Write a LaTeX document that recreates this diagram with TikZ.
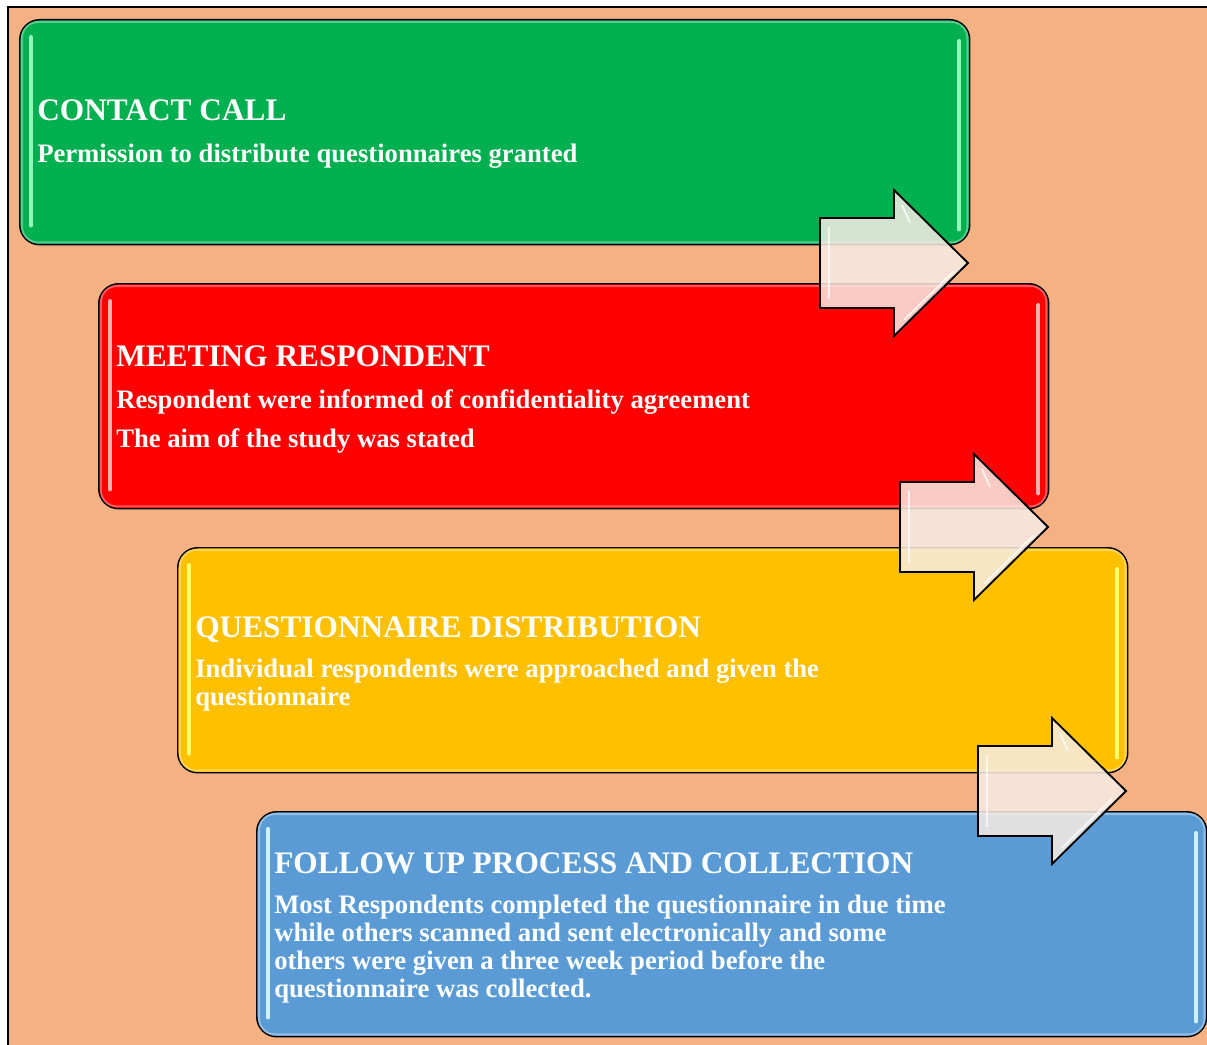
\documentclass[tikz,border=0pt]{standalone}
\usepackage{fontspec}
\setmainfont{Liberation Serif}
\usetikzlibrary{calc,positioning}

\definecolor{peach}{RGB}{244,177,131}
\definecolor{stagegreen}{RGB}{0,176,80}
\definecolor{stagered}{RGB}{255,0,0}
\definecolor{stagegold}{RGB}{255,192,0}
\definecolor{stageblue}{RGB}{91,155,213}
\definecolor{glowgreen}{RGB}{150,245,185}
\definecolor{glowred}{RGB}{255,175,175}
\definecolor{glowgold}{RGB}{255,255,110}
\definecolor{glowblue}{RGB}{205,242,255}
\definecolor{arrowfill}{RGB}{247,236,228}

\tikzset{
  panel/.style={draw=black,line width=1.1pt,rounded corners=15pt,anchor=north west,
    minimum width=712.5pt,minimum height=168.75pt,inner sep=0pt},
  headline/.style={anchor=base west,inner sep=0pt,text=white,
    font=\bfseries\fontsize{23.5}{26}\selectfont},
  bodytext/.style={anchor=base west,inner sep=0pt,text=white,align=left,
    font=\bfseries\fontsize{20}{20.9}\selectfont},
  glare/.style={line width=3pt,line cap=round},
  blockarrow/.style={draw=black,line width=1.4pt,line join=miter,
    fill=arrowfill,fill opacity=0.86}
}

\begin{document}
\begin{tikzpicture}[x=0.75pt,y=-0.75pt]
\useasboundingbox (0,0) rectangle (1207,1045);
% page background and frame
\fill[peach] (8,7) rectangle (1207,1045);
\draw[line width=1.8pt] (8,1045) -- (8,7) -- (1207,7);

% the four stages, each shifted right and down
\foreach \k/\col/\glow in {0/stagegreen/glowgreen,1/stagered/glowred,2/stagegold/glowgold,3/stageblue/glowblue}{
  \node[panel,fill=\col] (p\k) at (19+79*\k,19+264*\k) {};
  % soft rim and glossy side strips
  \draw[white,opacity=0.35,line width=1.5pt,rounded corners=12pt]
    ($(p\k.north west)+(3,3)$) rectangle ($(p\k.south east)+(-3,-3)$);
  \draw[glare,\glow] ($(p\k.north west)+(12,18)$) -- ($(p\k.south west)+(12,-20)$);
  \draw[glare,\glow] ($(p\k.north east)+(-11,22)$) -- ($(p\k.south east)+(-11,-16)$);
}

% texts (multi-line nodes sit on their last baseline)
\node[headline] (h1) at (37,121) {CONTACT CALL};
\node[bodytext] (b1) at (37,163) {Permission to distribute questionnaires granted};

\node[headline] (h2) at (116,366) {MEETING RESPONDENT};
\node[bodytext] (b2) at (116,408) {Respondent were informed of confidentiality agreement};
\node[bodytext] (b3) at (116,447) {The aim of the study was stated};

\node[headline] (h3) at (195,637) {QUESTIONNAIRE DISTRIBUTION};
\node[bodytext] (b4) at (195,705) {Individual respondents were approached and given the\\questionnaire};

\node[headline] (h4) at (274,873) {FOLLOW UP PROCESS AND COLLECTION};
\node[bodytext] (b5) at (274,997) {Most Respondents completed the questionnaire in due time\\
  while others scanned and sent electronically and some\\
  others were given a three week period before the\\
  questionnaire was collected.};

% block arrows between the stages
\foreach \ax/\ay in {820/263,900/527,978/791}{
  \begin{scope}[shift={(\ax,\ay)}]
  \draw[blockarrow] (0,-45) -- (74,-45) -- (74,-73) -- (148,0) -- (74,73) -- (74,45) -- (0,45) -- cycle;
  % bevel highlights
  \draw[white,opacity=0.7,line width=1.5pt] (9,-36) -- (9,36);
  \draw[white,opacity=0.7,line width=1.5pt] (84,57) -- (134,8);
  \draw[white,opacity=0.7,line width=1.5pt] (82,-58) -- (90,-40);
  \end{scope}
}
\end{tikzpicture}
\end{document}
